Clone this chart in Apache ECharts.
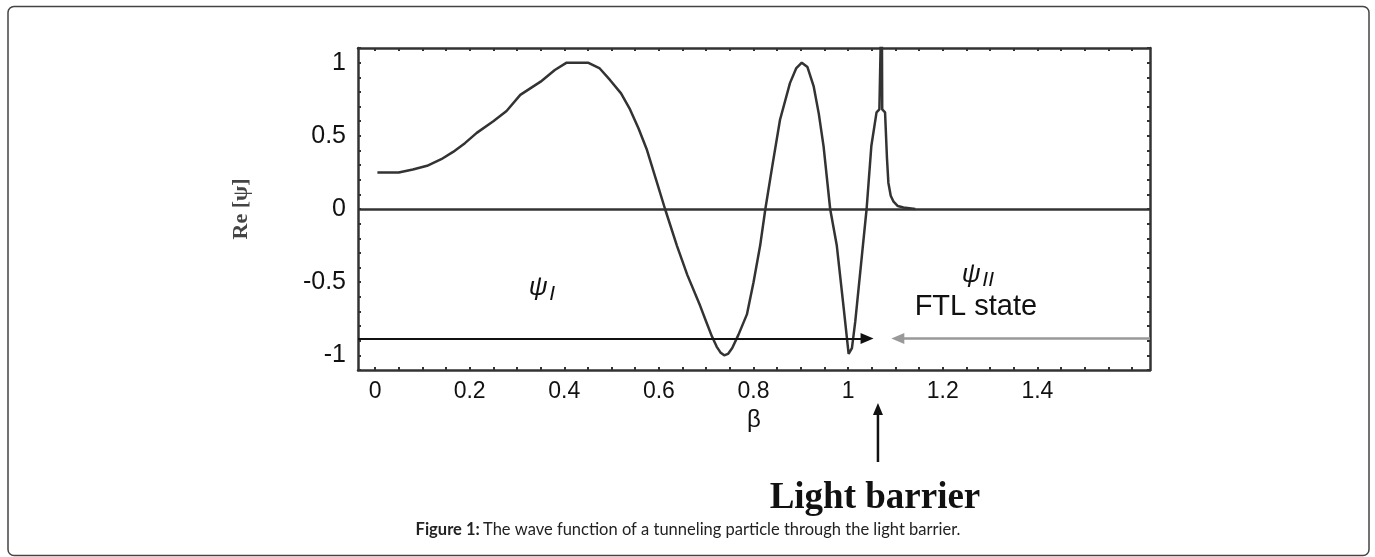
<!DOCTYPE html>
<html>
<head>
<meta charset="utf-8">
<script src="https://cdn.jsdelivr.net/npm/echarts@6/dist/echarts.min.js"></script>
<style>
  html, body { margin: 0; background: #fff; }
  #main { width: 1375px; height: 557px; }
</style>
</head>
<body>
<div id="main"></div>
<script>
  // wave function Re[psi]
  const beta = [0.005, 0.05, 0.08, 0.11, 0.14, 0.165, 0.19, 0.215, 0.25, 0.278, 0.307, 0.35, 0.38, 0.405,
    0.45, 0.475, 0.497, 0.52, 0.539, 0.557, 0.574, 0.594, 0.613, 0.638, 0.66, 0.687, 0.70, 0.712,
    0.722, 0.73, 0.738, 0.746, 0.755, 0.768, 0.786, 0.80, 0.814, 0.825, 0.84, 0.856, 0.877, 0.89,
    0.902, 0.914, 0.927, 0.938, 0.948, 0.962, 0.976, 0.99, 1.001, 1.008, 1.015, 1.029, 1.039, 1.049,
    1.06, 1.066, 1.071, 1.072, 1.078, 1.082, 1.085, 1.09, 1.096, 1.105, 1.117, 1.142];
  const rePsi = [0.25, 0.25, 0.27, 0.295, 0.34, 0.39, 0.45, 0.52, 0.60, 0.67, 0.78, 0.87, 0.95, 1.0,
    1.0, 0.96, 0.88, 0.79, 0.68, 0.55, 0.41, 0.2, 0.0, -0.25, -0.45, -0.66, -0.77, -0.87,
    -0.94, -0.98, -1.0, -0.99, -0.95, -0.86, -0.72, -0.5, -0.25, 0.0, 0.3, 0.61, 0.86, 0.96,
    1.0, 0.97, 0.84, 0.65, 0.43, 0.0, -0.25, -0.66, -0.99, -0.95, -0.77, -0.32, 0.0, 0.43,
    0.66, 0.68, 1.5, 0.68, 0.66, 0.35, 0.18, 0.09, 0.05, 0.02, 0.01, 0.0];

  const xTickLabels = [0, 0.2, 0.4, 0.6, 0.8, 1, 1.2, 1.4];
  const yTickLabels = [-1, -0.5, 0, 0.5, 1];

  // annotations
  const arrowLevel = -0.885;
  const leftArrow = [-0.036, 1.04];
  const rightArrow = [1.638, 1.105];
  const barrierBeta = 1.063;
  const psiOne = [0.345, -0.54];
  const psiTwo = [1.26, -0.45];
  const ftlLabel = [1.27, -0.67];

  const xMin = -0.036, xMax = 1.638;
  const yMin = -1.1, yMax = 1.1;

  const xTicks = [];
  for (let i = 0; i <= 32; i++) xTicks.push(+(i * 0.05).toFixed(2));
  const yTicks = [];
  for (let i = -11; i <= 11; i++) yTicks.push(+(i * 0.1).toFixed(1));

  const axisColor = '#333';
  const frameLine = { show: true, onZero: false, lineStyle: { color: axisColor, width: 2.5 } };

  const chart = echarts.init(document.getElementById('main'));
  chart.setOption({
    animation: false,
    grid: { left: 358, right: 225, top: 48, bottom: 187 },
    xAxis: [
      {
        type: 'value', min: xMin, max: xMax, position: 'bottom',
        name: 'β', nameLocation: 'middle', nameGap: 30,
        nameTextStyle: { fontSize: 24, color: '#111', fontFamily: 'Liberation Sans' },
        axisLine: frameLine,
        axisTick: { show: true, inside: true, length: 3, customValues: xTicks, lineStyle: { color: axisColor, width: 2 } },
        axisLabel: { customValues: xTickLabels, margin: 10, fontSize: 23, color: '#111', fontFamily: 'Liberation Sans' },
        splitLine: { show: false }
      },
      {
        type: 'value', min: xMin, max: xMax, position: 'top',
        axisLine: frameLine,
        axisTick: { show: true, inside: true, length: 3, customValues: xTicks, lineStyle: { color: axisColor, width: 2 } },
        axisLabel: { show: false },
        splitLine: { show: false }
      }
    ],
    yAxis: [
      {
        type: 'value', min: yMin, max: yMax, position: 'left',
        name: 'Re [ψ]', nameLocation: 'middle', nameRotate: 90, nameGap: 106,
        nameTextStyle: { fontSize: 22, fontWeight: 'bold', color: '#444', fontFamily: 'Liberation Serif' },
        axisLine: frameLine,
        axisTick: { show: true, inside: true, length: 3, customValues: yTicks, lineStyle: { color: axisColor, width: 2 } },
        axisLabel: { customValues: yTickLabels, margin: 12, fontSize: 25, color: '#111', fontFamily: 'Liberation Sans' },
        splitLine: { show: false }
      },
      {
        type: 'value', min: yMin, max: yMax, position: 'right',
        axisLine: frameLine,
        axisTick: { show: true, inside: true, length: 3, customValues: yTicks, lineStyle: { color: axisColor, width: 2 } },
        axisLabel: { show: false },
        splitLine: { show: false }
      }
    ],
    series: [
      {
        name: 'Re[psi]',
        type: 'line',
        xAxisIndex: 0,
        yAxisIndex: 0,
        data: beta.map((b, i) => [b, rePsi[i]]),
        showSymbol: false,
        symbol: 'none',
        clip: true,
        lineStyle: { color: '#333', width: 2.5 },
        markLine: {
          silent: true,
          label: { show: false },
          symbolSize: [11, 13],
          data: [
            [
              { coord: [xMin, 0], symbol: 'none', lineStyle: { color: '#333', width: 2.5, type: 'solid' } },
              { coord: [xMax, 0], symbol: 'none' }
            ],
            [
              { coord: [leftArrow[0], arrowLevel], symbol: 'none', lineStyle: { color: '#111', width: 2, type: 'solid' } },
              { coord: [leftArrow[1], arrowLevel], symbol: 'triangle' }
            ],
            [
              { coord: [rightArrow[0], arrowLevel], symbol: 'none', lineStyle: { color: '#999', width: 2.5, type: 'solid' } },
              { coord: [rightArrow[1], arrowLevel], symbol: 'triangle', itemStyle: { color: '#222' } }
            ]
          ]
        }
      }
    ]
  });

  const toPx = (pt) => chart.convertToPixel({ xAxisIndex: 0, yAxisIndex: 0 }, pt);
  const bx = chart.convertToPixel({ xAxisIndex: 0 }, barrierBeta);
  const p1 = toPx(psiOne);
  const p2 = toPx(psiTwo);
  const ftl = toPx(ftlLabel);
  const psiFont = 'italic 26px "Liberation Sans"';
  const subFont = 'italic 21px "Liberation Sans"';

  chart.setOption({
    graphic: [
      {
        type: 'rect', silent: true,
        shape: { x: 8, y: 6.5, width: 1361, height: 549, r: 6 },
        style: { fill: 'none', stroke: '#444', lineWidth: 1.5 }
      },
      { type: 'text', x: p1[0], y: p1[1], style: { text: 'ψ', font: psiFont, fill: '#111', align: 'center', verticalAlign: 'middle' } },
      { type: 'text', x: p1[0] + 14, y: p1[1] + 6, style: { text: 'I', font: subFont, fill: '#111', align: 'center', verticalAlign: 'middle' } },
      { type: 'text', x: p2[0], y: p2[1], style: { text: 'ψ', font: psiFont, fill: '#111', align: 'center', verticalAlign: 'middle' } },
      { type: 'text', x: p2[0] + 17, y: p2[1] + 5, style: { text: 'II', font: subFont, fill: '#111', align: 'center', verticalAlign: 'middle' } },
      { type: 'text', x: ftl[0], y: ftl[1], style: { text: 'FTL state', font: '29px "Liberation Sans"', fill: '#111', align: 'center', verticalAlign: 'middle' } },
      {
        type: 'line', silent: true,
        shape: { x1: bx, y1: 462, x2: bx, y2: 412 },
        style: { stroke: '#111', lineWidth: 2.5 }
      },
      {
        type: 'polygon', silent: true,
        shape: { points: [[bx, 403], [bx - 5, 415], [bx + 5, 415]] },
        style: { fill: '#111' }
      },
      {
        type: 'text', x: bx - 3, y: 498,
        style: { text: 'Light barrier', font: 'bold 37px "Liberation Serif"', fill: '#111', align: 'center', verticalAlign: 'middle' }
      },
      {
        type: 'text', x: 688, y: 530,
        style: {
          text: '{b|Figure 1:} {n|The wave function of a tunneling particle through the light barrier.}',
          align: 'center', verticalAlign: 'middle',
          rich: {
            b: { fontFamily: 'Lato', fontSize: 16.5, fontWeight: 'bold', fill: '#222' },
            n: { fontFamily: 'Lato', fontSize: 16.5, fill: '#222' }
          }
        }
      }
    ]
  });
</script>
</body>
</html>
